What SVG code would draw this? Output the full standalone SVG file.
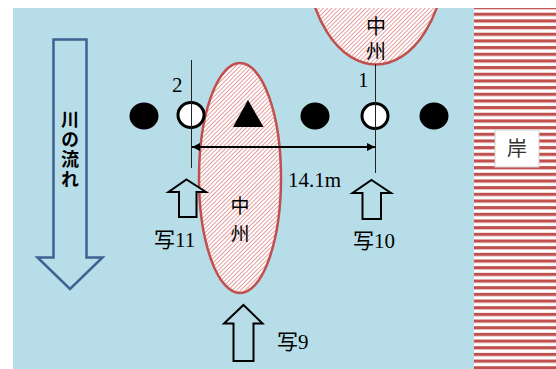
<svg xmlns="http://www.w3.org/2000/svg" width="556" height="369" viewBox="0 0 556 369">
<style>
.ser{font-family:"Liberation Serif","Noto Sans CJK JP",serif;font-size:21px;fill:#000}
.cjk{font-family:"Noto Sans CJK JP",sans-serif;fill:#000}
.vt{writing-mode:vertical-rl}
.isle{fill:url(#hatch);stroke:#c0504d;stroke-width:2.5}
.dot{fill:#000}
.ring{fill:#fff;stroke:#000;stroke-width:3}
.uparrow{fill:#b7dee8;stroke:#000;stroke-width:2;stroke-linejoin:miter}
.thin{stroke:#222;stroke-width:1}
</style>
<defs>
<pattern id="hatch" patternUnits="userSpaceOnUse" width="3" height="3" patternTransform="rotate(45)">
<rect width="3" height="3" fill="#fff"/>
<rect width="1" height="3" fill="#e39f9e"/>
</pattern>
<pattern id="bank" patternUnits="userSpaceOnUse" x="0" y="12.7" width="82" height="6.67">
<rect width="82" height="6.67" fill="#fff"/>
<rect y="0" width="82" height="3.2" fill="#c0504d"/>
</pattern>
<marker id="ah" viewBox="0 0 10 10" refX="10" refY="5" markerWidth="4" markerHeight="4" orient="auto-start-reverse" markerUnits="strokeWidth">
<path d="M0,0 L10,5 L0,10 z" fill="#000"/>
</marker>
<clipPath id="clipRiver"><rect x="13" y="8" width="461" height="361"/></clipPath>
</defs>
<rect x="0" y="0" width="556" height="369" fill="#fff"/>
<rect id="river" x="13" y="8" width="461" height="361" fill="#b7dee8"/>
<g id="bank-area">
<rect x="474" y="8" width="82" height="361" fill="url(#bank)"/>
<rect x="495" y="130" width="44" height="37" fill="#fff" stroke="#d0d0d0" stroke-width="1"/>
<text class="cjk" x="517" y="156" font-size="20" text-anchor="middle" style="fill:#333">岸</text>
</g>
<g id="flow">
<path d="M53.5,39.5 H86.5 V257.5 H102.5 L70,289 L37.5,257.5 H53.5 Z" fill="none" stroke="#3e6293" stroke-width="2.5"/>
<text class="cjk vt" x="70" y="110" font-size="18" font-weight="bold" letter-spacing="2">川の流れ</text>
</g>
<g id="island-top">
<ellipse class="isle" cx="376" cy="-47" rx="69.5" ry="111.5" clip-path="url(#clipRiver)"/>
<text class="cjk vt" x="376" y="16" font-size="20" letter-spacing="5">中州</text>
</g>
<g id="island-main">
<ellipse class="isle" cx="240" cy="178" rx="41" ry="115"/>
<text class="cjk vt" x="240" y="196" font-size="19" letter-spacing="9">中州</text>
</g>
<g id="piers">
<ellipse class="dot" cx="144" cy="116" rx="14.5" ry="13.5"/>
<ellipse class="ring" cx="191" cy="115" rx="13" ry="12.5"/>
<path class="dot" d="M248,100 L263.5,127 L233,127 Z"/>
<ellipse class="dot" cx="315" cy="116" rx="14.5" ry="13.5"/>
<ellipse class="ring" cx="375" cy="116" rx="13" ry="12.5"/>
<ellipse class="dot" cx="434" cy="116" rx="14.5" ry="13.5"/>
</g>
<g id="connectors">
<line class="thin" x1="191.5" y1="60" x2="191.5" y2="168"/>
<line class="thin" x1="375.5" y1="64" x2="375.5" y2="173"/>
<line x1="192" y1="147" x2="375" y2="147" stroke="#000" stroke-width="2" marker-start="url(#ah)" marker-end="url(#ah)"/>
</g>
<g id="labels">
<text class="ser" x="172" y="92">2</text>
<text class="ser" x="358" y="87">1</text>
<text class="ser" x="288" y="186.5">14.1m</text>
</g>
<g id="photo11">
<path class="uparrow" d="M186.5,179.5 L206,192 H196.5 V217 H179 V192 H168.5 Z"/>
<text class="ser" x="154" y="247">写11</text>
</g>
<g id="photo10">
<path class="uparrow" d="M371.5,180 L391,193 H381 V219 H362.5 V193 H352.5 Z"/>
<text class="ser" x="353" y="248">写10</text>
</g>
<g id="photo9">
<path class="uparrow" d="M243.5,305 L262.5,323.5 H253.5 V361 H233.5 V323.5 H224 Z"/>
<text class="ser" x="277" y="349">写9</text>
</g>
</svg>
